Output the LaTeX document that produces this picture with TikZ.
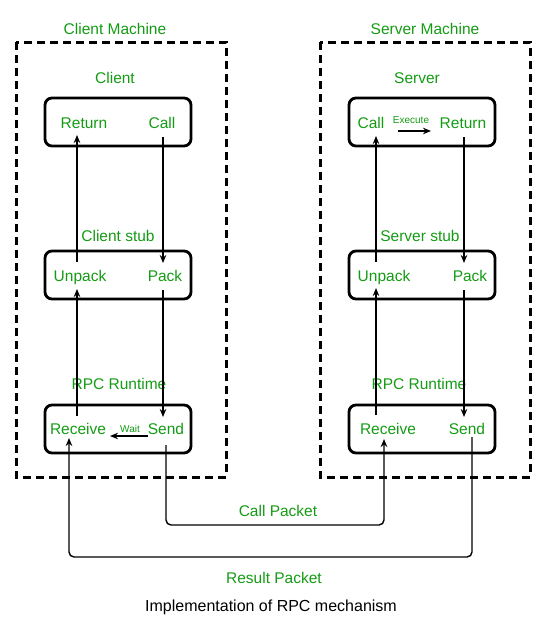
\documentclass[tikz,border=0pt]{standalone}
\usepackage{fontspec}
\setmainfont{Liberation Sans}
\usetikzlibrary{arrows.meta}
\definecolor{lblgreen}{RGB}{20,155,20}
\tikzset{
  machine/.style={draw, line width=3pt, dash pattern=on 8pt off 5pt},
  compbox/.style={draw, line width=2.8pt, rounded corners=7pt},
  lbl/.style={text=lblgreen, font=\fontsize{15.5}{18}\selectfont, inner sep=0pt, anchor=base},
  smalltxt/.style={text=lblgreen, font=\fontsize{10}{12}\selectfont, inner sep=0pt, anchor=base},
  captxt/.style={text=black, font=\fontsize{16}{19}\selectfont, inner sep=0pt, anchor=base},
  flow/.style={draw, line width=1.4pt, -{Stealth[length=8pt,width=6.5pt,inset=2.5pt]}},
  pkt/.style={flow, rounded corners=5pt}
}
\begin{document}
\begin{tikzpicture}[x=1pt,y=-1pt]
\useasboundingbox (0,0) rectangle (551,632);
% machines
\draw[machine] (16,42) rectangle (226,477);
\draw[machine] (320,42) rectangle (530,477);
% component boxes
\draw[compbox] (45,98) rectangle (191,146);
\draw[compbox] (45,251) rectangle (191,299);
\draw[compbox] (45,405) rectangle (191,453);
\draw[compbox] (349,98) rectangle (495,146);
\draw[compbox] (349,251) rectangle (495,299);
\draw[compbox] (349,405) rectangle (495,453);
% titles
\node[lbl] (cm) at (115,34) {Client Machine};
\node[lbl] (sm) at (425,34) {Server Machine};
\node[lbl] (cl) at (115,83) {Client};
\node[lbl] (sv) at (417,83) {Server};
\node[lbl] (cs) at (118,241) {Client stub};
\node[lbl] (ss) at (420,241) {Server stub};
\node[lbl] (cr) at (119,389) {RPC Runtime};
\node[lbl] (sr) at (419,389) {RPC Runtime};
% client texts
\node[lbl] (cRet) at (84,128) {Return};
\node[lbl] (cCall) at (162,128) {Call};
\node[lbl] (cUnp) at (80,281) {Unpack};
\node[lbl] (cPack) at (165,281) {Pack};
\node[lbl] (cRecv) at (78,434) {Receive};
\node[lbl] (cSend) at (166,434) {Send};
\node[smalltxt] (wait) at (130,432) {Wait};
% server texts
\node[lbl] (sCall) at (371,128) {Call};
\node[lbl] (sRet) at (463,128) {Return};
\node[smalltxt] (exec) at (411,123) {Execute};
\node[lbl] (sUnp) at (384,281) {Unpack};
\node[lbl] (sPack) at (470,281) {Pack};
\node[lbl] (sRecv) at (388,434) {Receive};
\node[lbl] (sSend) at (467,434) {Send};
% packet labels and caption
\node[lbl] (cp) at (278,516) {Call Packet};
\node[lbl] (rp) at (274,583) {Result Packet};
\node[captxt] (capt) at (271,611) {Implementation of RPC mechanism};
% connector end points
\coordinate (cCallO) at (163,137);
\coordinate (cPackI) at (163,263);
\coordinate (cUnpO) at (77,262);
\coordinate (cRetI) at (77,135);
\coordinate (cPackO) at (163,290);
\coordinate (cSendI) at (163,417);
\coordinate (cRecvO) at (77,416);
\coordinate (cUnpI) at (77,289);
\coordinate (waitO) at (148,436);
\coordinate (waitI) at (110,436);
\coordinate (cSendO) at (166,445);
\coordinate (sRecvI) at (384,439);
\coordinate (sSendO) at (472,437);
\coordinate (cRecvI) at (69,438);
\coordinate (sUnpO) at (376,262);
\coordinate (sCallI) at (376,136);
\coordinate (sRetO) at (464,137);
\coordinate (sPackI) at (464,263);
\coordinate (sRecvO) at (376,415);
\coordinate (sUnpI) at (376,288);
\coordinate (sPackO) at (464,290);
\coordinate (sSendI) at (464,417);
\coordinate (execO) at (398,131);
\coordinate (execI) at (431,131);
% client flows
\draw[flow] (cCallO) -- (cPackI);
\draw[flow] (cUnpO) -- (cRetI);
\draw[flow] (cPackO) -- (cSendI);
\draw[flow] (cRecvO) -- (cUnpI);
\draw[flow] (waitO) -- (waitI);
% server flows
\draw[flow] (sUnpO) -- (sCallI);
\draw[flow] (sRetO) -- (sPackI);
\draw[flow] (sRecvO) -- (sUnpI);
\draw[flow] (sPackO) -- (sSendI);
\draw[flow] (execO) -- (execI);
% packets
\draw[pkt] (cSendO) |- (280,525) -| (sRecvI);
\draw[pkt] (sSendO) |- (270,557) -| (cRecvI);
\end{tikzpicture}
\end{document}
